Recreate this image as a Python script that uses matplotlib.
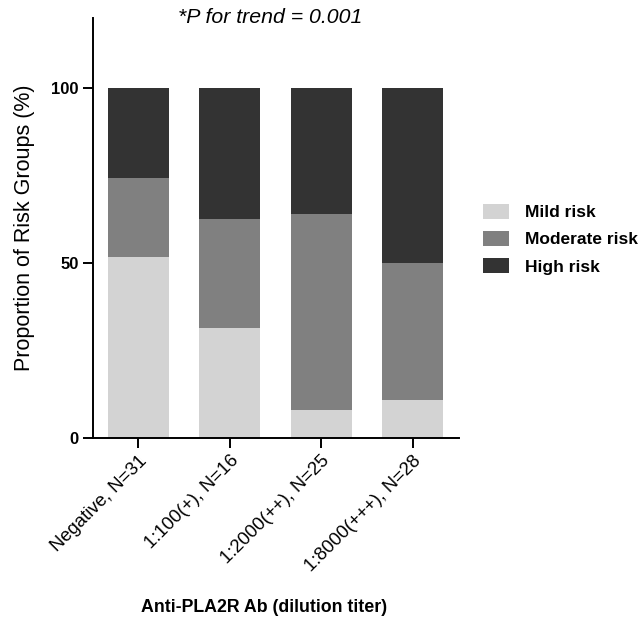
import matplotlib
matplotlib.use("Agg")
import matplotlib.pyplot as plt
import matplotlib.transforms as mtransforms
import numpy as np

plt.rcParams['font.family'] = ['Liberation Sans', 'DejaVu Sans']

grupos = ["Negative, N=31", "1:100(+), N=16", "1:2000(++), N=25", "1:8000(+++), N=28"]
leve = [51.6, 31.25, 8.0, 10.7]
moderado = [22.6, 31.25, 56.0, 39.3]
alto = [25.8, 37.5, 36.0, 50.0]

cores = {"Mild risk": "#d3d3d3", "Moderate risk": "#808080", "High risk": "#333333"}

fig = plt.figure(figsize=(6.44, 6.17), dpi=100)
ax = fig.add_axes([0.145, 0.2906, 0.567, 0.68])

x = np.arange(len(grupos))
largura = 0.667
b1 = ax.bar(x, leve, largura, color=cores["Mild risk"], label="Mild risk")
b2 = ax.bar(x, moderado, largura, bottom=leve, color=cores["Moderate risk"], label="Moderate risk")
base = np.array(leve) + np.array(moderado)
b3 = ax.bar(x, alto, largura, bottom=base, color=cores["High risk"], label="High risk")

ax.set_xlim(-0.49, 3.5)
ax.set_ylim(0, 120)
ax.set_yticks([0, 50, 100])
ax.set_xticks(x)
ax.set_xticklabels(grupos, rotation=45, ha="right", rotation_mode="anchor", fontsize=13.3)
# desloca os rótulos um pouco para baixo/esquerda
desloc = mtransforms.ScaledTranslation(-5 / 72, -6.5 / 72, fig.dpi_scale_trans)
for lbl in ax.get_xticklabels():
    lbl.set_transform(lbl.get_transform() + desloc)
for lbl in ax.get_yticklabels():
    lbl.set_fontsize(12)
    lbl.set_fontweight("bold")

for s in ["top", "right"]:
    ax.spines[s].set_visible(False)
for s in ["left", "bottom"]:
    ax.spines[s].set_linewidth(1.4)
ax.tick_params(axis="both", length=7, width=1.4, direction="out")

ax.set_ylabel("Proportion of Risk Groups (%)", fontsize=15.5)
ax.yaxis.set_label_coords(-0.16, 0.5)

fig.text(0.41, 0.016, "Anti-PLA2R Ab (dilution titer)", ha="center", va="center",
         fontsize=12.8, fontweight="bold")
fig.text(0.419, 0.972, "*P for trend = 0.001", ha="center", va="center",
         fontsize=15.3, style="italic")

fig.legend(handles=[b1, b2, b3], loc="center left", bbox_to_anchor=(0.75, 0.6126),
           frameon=False, borderpad=0, borderaxespad=0, handlelength=1.5,
           handleheight=1.0, handletextpad=0.9, labelspacing=0.6,
           prop={"size": 12.5, "weight": "bold"})

plt.savefig("out.png", dpi=100)
